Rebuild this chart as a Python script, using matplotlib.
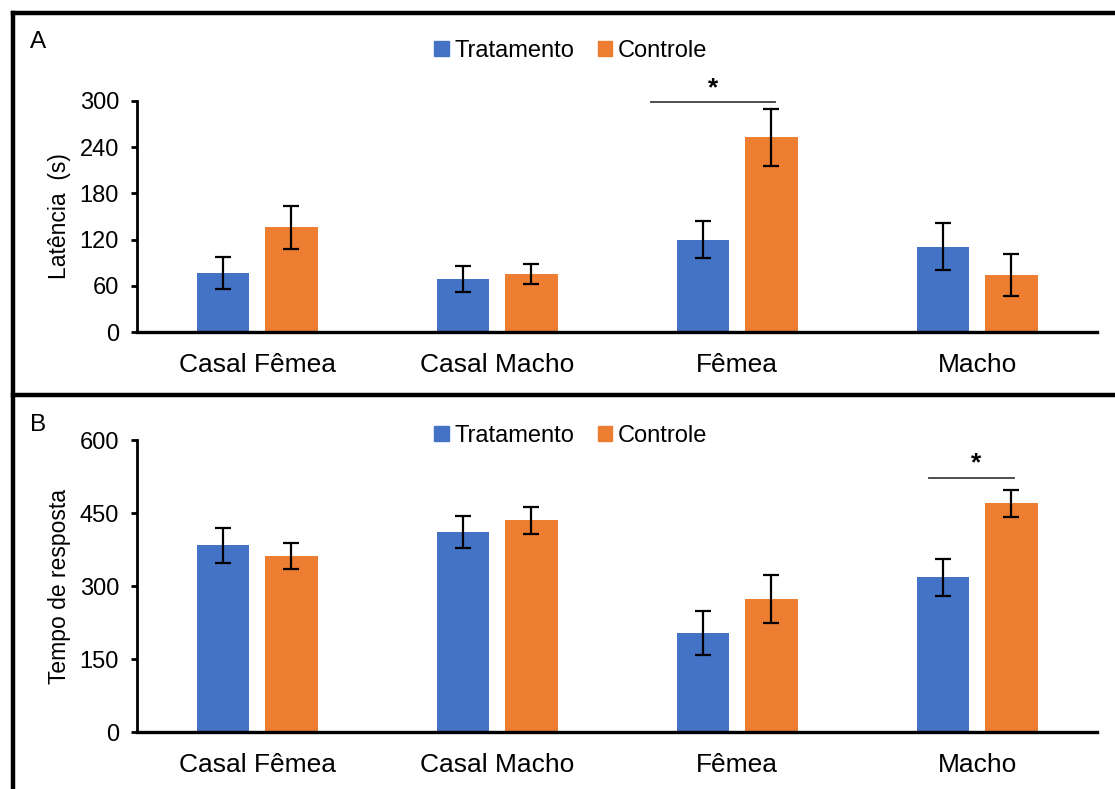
import numpy as np
import matplotlib.pyplot as plt
from matplotlib.lines import Line2D
from matplotlib.patches import Patch

plt.rcParams['font.family'] = ['Liberation Sans', 'DejaVu Sans']

grupos = ['Casal Fêmea', 'Casal Macho', 'Fêmea', 'Macho']

# A: latência (s)
lat_trat = [77, 69, 120, 111]
lat_trat_err = [21, 17, 24, 31]
lat_ctrl = [136, 75, 253, 74]
lat_ctrl_err = [28, 13, 37, 27]

# B: tempo de resposta
resp_trat = [384, 411, 203, 318]
resp_trat_err = [36, 33, 45, 38]
resp_ctrl = [361, 435, 273, 470]
resp_ctrl_err = [27, 28, 49, 28]

azul = '#4472C4'
laranja = '#ED7D31'

fig = plt.figure(figsize=(11.15, 7.89), dpi=100)
axA = fig.add_axes([0.1229, 0.5792, 0.861, 0.2928])
axB = fig.add_axes([0.1229, 0.0722, 0.861, 0.3701])

x = np.arange(len(grupos))
w = 0.22
off = 0.142


def painel(ax, trat, trat_err, ctrl, ctrl_err, ymax, passo, ylabel):
    ek = dict(elinewidth=1.6, capthick=1.6, ecolor='black')
    ax.bar(x - off, trat, w, color=azul, yerr=trat_err, capsize=6, error_kw=ek)
    ax.bar(x + off, ctrl, w, color=laranja, yerr=ctrl_err, capsize=6, error_kw=ek)
    ax.set_xlim(-0.5, 3.5)
    ax.set_ylim(0, ymax)
    ax.set_yticks(np.arange(0, ymax + 1, passo))
    ax.set_xticks(x)
    ax.set_xticklabels(grupos, fontsize=19)
    ax.tick_params(axis='x', length=0, pad=15)
    ax.tick_params(axis='y', labelsize=17, width=2, length=4, pad=9, direction='out')
    for s in ['top', 'right']:
        ax.spines[s].set_visible(False)
    ax.spines['left'].set_linewidth(2)
    ax.spines['bottom'].set_linewidth(2.4)
    ax.set_ylabel(ylabel, fontsize=16.5)


painel(axA, lat_trat, lat_trat_err, lat_ctrl, lat_ctrl_err, 300, 60, 'Latência  (s)')
painel(axB, resp_trat, resp_trat_err, resp_ctrl, resp_ctrl_err, 600, 150, 'Tempo de resposta')

axA.yaxis.set_label_coords(-0.069, 0.5)
axB.yaxis.set_label_coords(-0.069, 0.5)

# linhas de significância
axA.plot([2 - 0.36, 2 + 0.16], [299, 299], color='#404040', lw=1.3, clip_on=False)
axA.text(1.9, 301, '*', ha='center', va='bottom', fontsize=19, fontweight='bold', clip_on=False)
axB.plot([3 - 0.2, 3 + 0.155], [521, 521], color='#404040', lw=1.3, clip_on=False)
axB.text(2.997, 527, '*', ha='center', va='bottom', fontsize=19, fontweight='bold')

# legendas
handles = [Patch(color=azul, label='Tratamento'), Patch(color=laranja, label='Controle')]
for yl in [0.935, 0.448]:
    fig.legend(handles=handles, loc='center', bbox_to_anchor=(0.512, yl), ncol=2,
               frameon=False, fontsize=17, handlelength=0.6, handleheight=0.6,
               handletextpad=0.25, columnspacing=1.0)

fig.text(0.027, 0.947, 'A', fontsize=17.5, ha='left', va='center')
fig.text(0.027, 0.461, 'B', fontsize=17.5, ha='left', va='center')

# moldura dos painéis
xl = 12.5 / 1115
yt = 1 - 12.5 / 789
ym = 1 - 395 / 789
for xs, ys in [([xl, xl], [0, yt]), ([xl, 1], [yt, yt]), ([xl, 1], [ym, ym])]:
    fig.add_artist(Line2D(xs, ys, color='black', lw=3.2, transform=fig.transFigure))

fig.savefig('out.png', dpi=100)
